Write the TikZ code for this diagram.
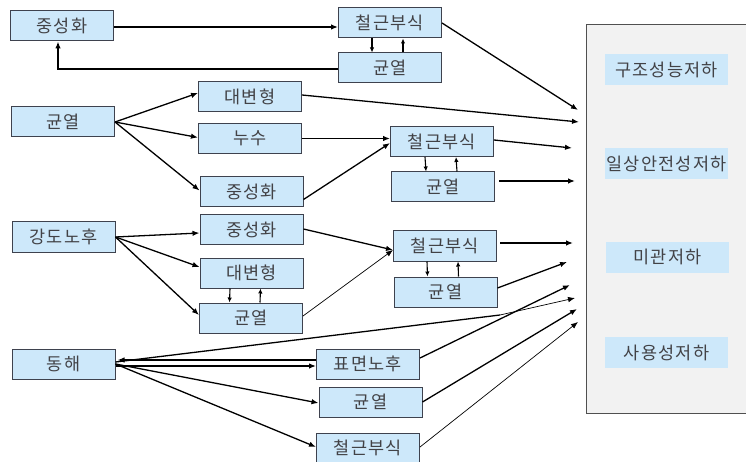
\documentclass[tikz,border=0pt]{standalone}
\usepackage{fontspec}
\newfontfamily\kr{Noto Sans CJK KR}[LetterSpace=7]
\usetikzlibrary{arrows.meta}
\definecolor{boxfill}{RGB}{205,232,250}
\definecolor{boxline}{RGB}{62,66,78}
\definecolor{panelfill}{RGB}{242,242,242}
\definecolor{panelline}{RGB}{80,80,80}
\definecolor{txt}{RGB}{66,66,70}

\begin{document}
\begin{tikzpicture}[x=1pt,y=-1pt,
  box/.style={draw=boxline, line width=1pt, fill=boxfill, minimum width=103pt,
    minimum height=30pt, inner sep=0pt, text=txt, font=\kr\fontsize{17.5}{18}\selectfont},
  tag/.style={fill=boxfill, minimum width=123pt, minimum height=31pt, inner sep=0pt,
    text=txt, font=\kr\fontsize{17.5}{18}\selectfont},
  link/.style={line width=1.3pt, -{Latex[length=7pt,width=5.5pt]}},
  thin link/.style={line width=0.7pt, -{Latex[length=7pt,width=5.5pt]}},
  pair/.style={line width=1.1pt, -{Latex[length=5pt,width=4.5pt]}}
]
\useasboundingbox (0,0) rectangle (746,462);
\clip (0,0) rectangle (746,462);

% outcome panel on the right
\path[fill=panelfill, draw=panelline, line width=1pt] (586,25) rectangle (770,413);
\node[tag] (o1) at (666.5,70)  {구조성능저하};
\node[tag] (o2) at (666.5,163.5) {일상안전성저하};
\node[tag] (o3) at (667.5,257) {미관저하};
\node[tag] (o4) at (666.5,352.5) {사용성저하};

% arrow tips on the panel side
\coordinate (t1) at (578,110);
\coordinate (t2) at (579,122);
\coordinate (t3) at (572,148);
\coordinate (t4) at (575,181);
\coordinate (t5) at (573,243);
\coordinate (t6) at (567,262);
\coordinate (t7) at (570,285);
\coordinate (t8) at (575,298);
\coordinate (t9) at (577,309);
\coordinate (t10) at (578,322);
\coordinate (kink) at (500,315);

% group 1: neutralisation
\node[box] (zs1) at (62,26) {중성화};
\node[box] (cg1) at (390,23) {철근부식};
\node[box] (gy1) at (390,68) {균열};

% group 2: cracking
\node[box] (gy2) at (63,122) {균열};
\node[box] (dh2) at (250,97) {대변형};
\node[box] (ns2) at (250,138.5) {누수};
\node[box] (zs2) at (251.5,191.5) {중성화};
\node[box] (cg2) at (442,141.5) {철근부식};
\node[box] (gy2b) at (443,187) {균열};

% group 3: strength ageing
\node[box] (gd3) at (63.5,237) {강도노후};
\node[box] (zs3) at (251.5,229.5) {중성화};
\node[box] (dh3) at (251.5,273) {대변형};
\node[box] (gy3) at (251,318) {균열};
\node[box] (cg3) at (445,246) {철근부식};
\node[box] (gy3b) at (445.5,292) {균열};

% group 4: freeze damage
\node[box] (dh4) at (63.5,364) {동해};
\node[box] (pm4) at (368,364) {표면노후};
\node[box] (gy4) at (370.5,402) {균열};
\node[box] (cg4) at (368,448) {철근부식};

% group 1 connectors
\draw[link] ([yshift=-1pt]zs1.east) -- ([yshift=-1pt]zs1.east -| cg1.west);
\draw[pair] ([xshift=-18pt]cg1.south) -- ([xshift=-18pt]gy1.north);
\draw[pair] ([xshift=13pt]gy1.north) -- ([xshift=13pt]cg1.south);
\draw[link] ([yshift=-1pt]gy1.west) -| ([xshift=-4pt]zs1.south);
\draw[link] (cg1.east) -- (t1);

% group 2 connectors
\draw[link] (gy2.east) -- ([yshift=4pt]dh2.west);
\draw[link] (gy2.east) -- ([yshift=1pt]ns2.west);
\draw[link] (gy2.east) -- ([yshift=1pt]zs2.west);
\draw[link] ([yshift=2pt]dh2.east) -- (t2);
\draw[link] (ns2.east) -- (ns2.east -| cg2.west);
\draw[link] ([yshift=-8pt]zs2.east) -- ([yshift=-1.5pt]cg2.west);
\draw[pair] ([xshift=-17pt]cg2.south) -- ([xshift=-17pt]gy2b.north);
\draw[pair] ([xshift=14pt]gy2b.north) -- ([xshift=14pt]cg2.south);
\draw[link] ([yshift=1.5pt]cg2.east) -- (t3);
\draw[link, shorten <=4pt] (gy2b.east |- t4) -- (t4);

% group 3 connectors
\draw[link] (gd3.east) -- ([yshift=-3.5pt]zs3.west);
\draw[link] (gd3.east) -- ([yshift=6pt]dh3.west);
\draw[link] (gd3.east) -- ([yshift=3pt]gy3.west);
\draw[link] ([yshift=0.5pt]zs3.east) -- ([yshift=-4pt]cg3.west);
\draw[thin link] ([yshift=2pt]gy3.east) -- ([yshift=-4pt]cg3.west);
\draw[pair] ([xshift=-21.5pt]dh3.south) -- ([xshift=-21.5pt]gy3.north);
\draw[pair] ([xshift=9pt]gy3.north) -- ([xshift=9pt]dh3.south);
\draw[pair] ([xshift=-18pt]cg3.south) -- ([xshift=-18pt]gy3b.north);
\draw[pair] ([xshift=13pt]gy3b.north) -- ([xshift=13pt]cg3.south);
\draw[link, shorten <=3pt] (cg3.east |- t5) -- (t5);
\draw[link] ([yshift=4pt]gy3b.east) -- (t6);

% group 4 connectors
\draw[link] ([yshift=4pt]pm4.west) -- ([xshift=2pt,yshift=4pt]dh4.east);
\draw[link] ([yshift=-2pt]dh4.east) -- ([yshift=-2pt]pm4.west);
\draw[line width=1.3pt] ([yshift=2pt]dh4.east) -- (kink);
\draw[thin link] (kink) -- (t8);
\draw[link] (dh4.east) -- ([yshift=-1pt]gy4.west);
\draw[link] (dh4.east) -- ([yshift=1pt]cg4.west);
\draw[link] ([yshift=6pt]pm4.east) -- (t7);
\draw[link] (gy4.east) -- (t9);
\draw[thin link] ([yshift=1pt]cg4.east) -- (t10);
\end{tikzpicture}
\end{document}
